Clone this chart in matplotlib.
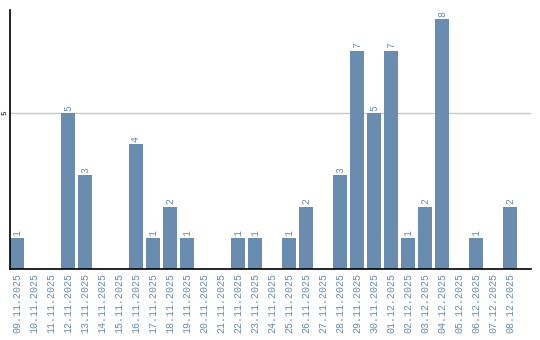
import matplotlib
matplotlib.use("Agg")
import matplotlib.pyplot as plt

# daily counts, 09.11.2025 - 08.12.2025
dates = ["09.11.2025", "10.11.2025", "11.11.2025", "12.11.2025", "13.11.2025",
         "14.11.2025", "15.11.2025", "16.11.2025", "17.11.2025", "18.11.2025",
         "19.11.2025", "20.11.2025", "21.11.2025", "22.11.2025", "23.11.2025",
         "24.11.2025", "25.11.2025", "26.11.2025", "27.11.2025", "28.11.2025",
         "29.11.2025", "30.11.2025", "01.12.2025", "02.12.2025", "03.12.2025",
         "04.12.2025", "05.12.2025", "06.12.2025", "07.12.2025", "08.12.2025"]
counts = [1, 0, 0, 5, 3, 0, 0, 4, 1, 2,
          1, 0, 0, 1, 1, 0, 1, 2, 0, 3,
          7, 5, 7, 1, 2, 8, 0, 1, 0, 2]

BLUE = "#6a8caf"
MONO = "Liberation Mono"

fig = plt.figure(figsize=(5.4, 3.4), dpi=100)
ax = fig.add_axes([10 / 540, 71 / 340, 521 / 540, 259 / 340])

x = list(range(len(dates)))
ax.bar(x, counts, width=0.82, color=BLUE, zorder=2)

for xi, c in zip(x, counts):
    if c > 0:
        ax.text(xi, c + 0.07, str(c), rotation=90, ha="center", va="bottom",
                color=BLUE, fontsize=7, family=MONO)

ax.set_xlim(-0.41, 30.24)
ax.set_ylim(0, 8.3)
ax.axhline(5, color="#c8c8c8", lw=1, zorder=1)

ax.set_xticks(x)
ax.set_xticklabels(dates, rotation=90, color=BLUE, fontsize=7.2, family=MONO)
ax.set_yticks([5])
ax.set_yticklabels(["5"], rotation=90, va="center", fontsize=5.5, family=MONO)
ax.tick_params(axis="both", length=0, pad=3)
ax.tick_params(axis="y", pad=1)

for s in ["top", "right"]:
    ax.spines[s].set_visible(False)
ax.spines["left"].set_linewidth(1.2)
ax.spines["bottom"].set_linewidth(1.2)

fig.savefig("out.png", dpi=100)
